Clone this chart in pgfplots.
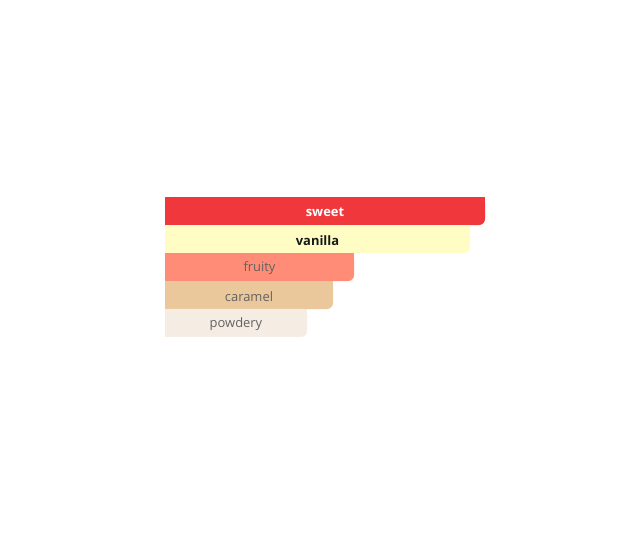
\documentclass[border=0pt]{standalone}
\usepackage{pgfplots}
\pgfplotsset{compat=1.18}
\usepackage{fontspec}
\setmainfont{Open Sans}

\definecolor{csweet}{HTML}{F0383C}
\definecolor{cvanilla}{HTML}{FFFDC4}
\definecolor{cfruity}{HTML}{FF8C76}
\definecolor{ccaramel}{HTML}{EBC89B}
\definecolor{cpowdery}{HTML}{F5ECE4}
\definecolor{labgray}{HTML}{626262}

% one bar, only its bottom right corner rounded:
% rounded copy, a square copy that hides the left corners,
% and a thin square copy over the top half
\newcommand{\flavourbar}[3]{%
  \addplot[fill=#1, draw=none, rounded corners=4.5pt] coordinates {(#2,#3)};
  \addplot[fill=#1, draw=none] coordinates {(#2-12,#3)};
  \addplot[fill=#1, draw=none, bar width=10.5pt, bar shift=5.25pt] coordinates {(#2,#3)};
}

\begin{document}
\begin{tikzpicture}
\path[use as bounding box, fill=white] (0,0) rectangle (465pt,401.25pt);
\begin{axis}[
  at={(123.75pt,148.5pt)}, anchor=south west,
  scale only axis,
  width=240pt, height=105pt,
  xmin=0, xmax=320,
  ymin=-0.5, ymax=4.5,
  y dir=reverse,
  axis lines=none,
  xbar, bar width=21pt, bar shift=0pt,
  clip=false,
]
\flavourbar{csweet}{320}{0}
\flavourbar{cvanilla}{305}{1}
\flavourbar{cfruity}{189}{2}
\flavourbar{ccaramel}{168}{3}
\flavourbar{cpowdery}{142}{4}

\begin{scope}[every node/.style={yshift=-0.9pt}]
\node[font=\bfseries\fontsize{9.7pt}{11pt}\selectfont, text=white] at (axis cs:160,0) {sweet};
\node[font=\bfseries\fontsize{9.7pt}{11pt}\selectfont, text=black!90] at (axis cs:152.5,1) {vanilla};
\node[font=\fontsize{9.7pt}{11pt}\selectfont, text=labgray] at (axis cs:94.5,2) {fruity};
\node[font=\fontsize{9.7pt}{11pt}\selectfont, text=labgray] at (axis cs:84,3) {caramel};
\node[font=\fontsize{9.7pt}{11pt}\selectfont, text=labgray] at (axis cs:71,4) {powdery};
\end{scope}
\end{axis}
\end{tikzpicture}
\end{document}
